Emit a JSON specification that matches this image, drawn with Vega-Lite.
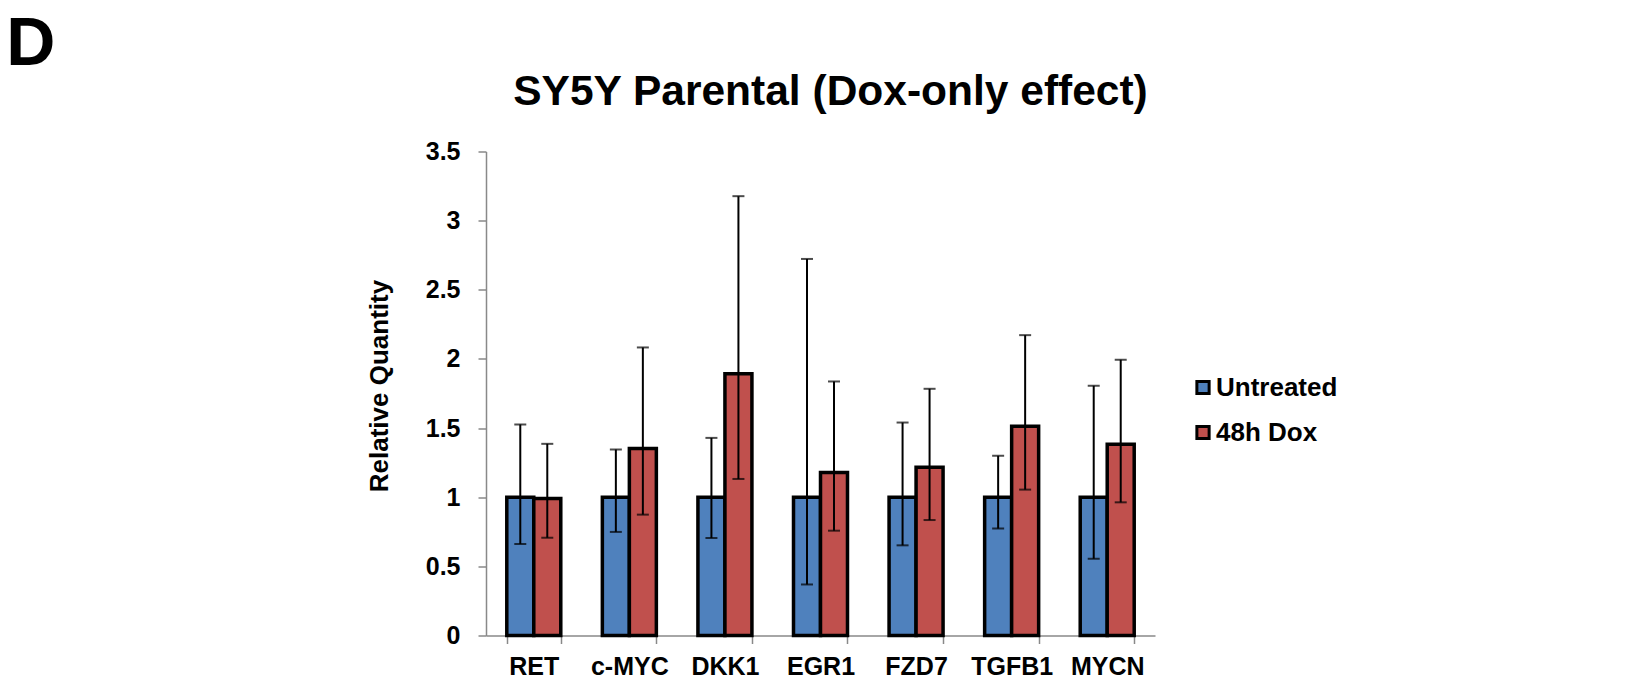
{
  "$schema": "https://vega.github.io/schema/vega-lite/v6.json",
  "padding": {"left": 6, "top": 10.5, "right": 5, "bottom": 0},
  "background": "white",
  "title": {"text": "D", "anchor": "start", "frame": "bounds", "fontSize": 68, "font": "Liberation Sans", "fontWeight": "bold", "color": "black", "dx": -360, "offset": -7.5},
  "vconcat": [
    {
      "title": {"text": "SY5Y Parental (Dox-only effect)", "anchor": "middle", "frame": "group", "fontSize": 42.5, "font": "Liberation Sans", "fontWeight": "bold", "color": "black", "dx": 10, "offset": 26},
      "width": 669,
      "height": 484,
      "data": {"values": [
        {"gene": "RET", "group": "Untreated", "value": 1.0, "lo": 0.662, "hi": 1.526},
        {"gene": "RET", "group": "48h Dox", "value": 0.99, "lo": 0.707, "hi": 1.386},
        {"gene": "c-MYC", "group": "Untreated", "value": 1.0, "lo": 0.749, "hi": 1.345},
        {"gene": "c-MYC", "group": "48h Dox", "value": 1.352, "lo": 0.874, "hi": 2.083},
        {"gene": "DKK1", "group": "Untreated", "value": 1.0, "lo": 0.705, "hi": 1.429},
        {"gene": "DKK1", "group": "48h Dox", "value": 1.893, "lo": 1.132, "hi": 3.177},
        {"gene": "EGR1", "group": "Untreated", "value": 1.0, "lo": 0.369, "hi": 2.723},
        {"gene": "EGR1", "group": "48h Dox", "value": 1.178, "lo": 0.758, "hi": 1.837},
        {"gene": "FZD7", "group": "Untreated", "value": 1.0, "lo": 0.652, "hi": 1.54},
        {"gene": "FZD7", "group": "48h Dox", "value": 1.217, "lo": 0.835, "hi": 1.784},
        {"gene": "TGFB1", "group": "Untreated", "value": 1.0, "lo": 0.773, "hi": 1.299},
        {"gene": "TGFB1", "group": "48h Dox", "value": 1.513, "lo": 1.055, "hi": 2.172},
        {"gene": "MYCN", "group": "Untreated", "value": 1.0, "lo": 0.555, "hi": 1.806},
        {"gene": "MYCN", "group": "48h Dox", "value": 1.383, "lo": 0.963, "hi": 1.994}
      ]},
      "encoding": {
        "x": {
          "field": "gene", "type": "nominal", "sort": null,
          "scale": {"paddingInner": 0.435, "paddingOuter": 0.2175},
          "axis": {"title": null, "labelAngle": 0, "tickBand": "extent", "labelFont": "Liberation Sans", "labelFontWeight": "bold", "labelFontSize": 25, "labelColor": "black", "labelPadding": 11, "domainColor": "#898989", "domainWidth": 1.5, "tickColor": "#898989", "tickWidth": 1.5, "tickSize": 8}
        },
        "xOffset": {"field": "group", "type": "nominal", "sort": ["Untreated", "48h Dox"], "scale": {"paddingInner": 0, "paddingOuter": 0}}
      },
      "layer": [
        {
          "mark": {"type": "bar", "stroke": "black", "strokeWidth": 3.5},
          "encoding": {
            "y": {
              "field": "value", "type": "quantitative",
              "scale": {"domain": [0, 3.5]},
              "axis": {"title": "Relative Quantity", "format": "~g", "values": [0, 0.5, 1, 1.5, 2, 2.5, 3, 3.5], "grid": false, "labelFont": "Liberation Sans", "labelFontWeight": "bold", "labelFontSize": 25, "labelColor": "black", "labelPadding": 18, "titleFont": "Liberation Sans", "titleFontWeight": "bold", "titleFontSize": 26, "titleColor": "black", "titlePadding": 33, "titleY": 234, "domainColor": "#898989", "domainWidth": 1.5, "tickColor": "#898989", "tickWidth": 1.5, "tickSize": 8}
            },
            "color": {
              "field": "group", "type": "nominal", "sort": ["Untreated", "48h Dox"],
              "scale": {"domain": ["Untreated", "48h Dox"], "range": ["#4F81BD", "#C0504D"]},
              "legend": {"title": null, "orient": "none", "legendX": 704, "legendY": 223, "symbolType": "square", "symbolSize": 150, "symbolStrokeColor": "black", "symbolStrokeWidth": 3, "symbolOpacity": 1, "labelFont": "Liberation Sans", "labelFontWeight": "bold", "labelFontSize": 26, "labelColor": "black", "labelOffset": 0, "rowPadding": 19}
            }
          }
        },
        {
          "mark": {"type": "rule", "color": "black", "strokeWidth": 2},
          "encoding": {
            "y": {"field": "lo", "type": "quantitative"},
            "y2": {"field": "hi"}
          }
        },
        {
          "mark": {"type": "tick", "color": "black", "thickness": 2, "size": 12},
          "encoding": {"y": {"field": "lo", "type": "quantitative"}}
        },
        {
          "mark": {"type": "tick", "color": "black", "thickness": 2, "size": 12},
          "encoding": {"y": {"field": "hi", "type": "quantitative"}}
        }
      ]
    }
  ],
  "config": {"view": {"stroke": null}}
}
